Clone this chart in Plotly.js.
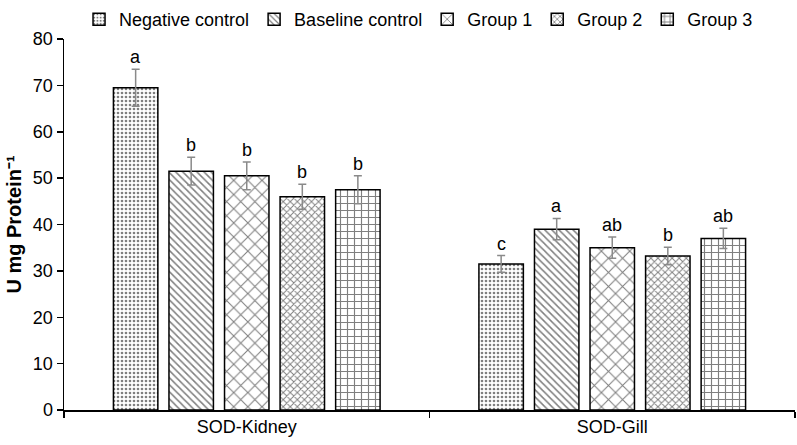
<!DOCTYPE html>
<html>
<head>
<meta charset="utf-8">
<script src="https://cdn.plot.ly/plotly-3.0.1.min.js"></script>
<style>html,body{margin:0;padding:0;background:#fff;}#chart{width:797px;height:445px;}</style>
</head>
<body>
<div id="chart"></div>
<script>
const categories = ["SOD-Kidney", "SOD-Gill"];
const seriesNames = ["Negative control", "Baseline control", "Group 1", "Group 2", "Group 3"];
const negativeControl = [69.5, 31.5];
const baselineControl = [51.5, 39.0];
const group1 = [50.5, 35.0];
const group2 = [46.0, 33.2];
const group3 = [47.5, 37.0];
const errNegative = [4.0, 1.8];
const errBaseline = [3.0, 2.3];
const errGroup1 = [3.0, 2.3];
const errGroup2 = [2.7, 1.9];
const errGroup3 = [3.0, 2.2];
const lettersNegative = ["a", "c"];
const lettersBaseline = ["b", "a"];
const lettersGroup1 = ["b", "ab"];
const lettersGroup2 = ["b", "b"];
const lettersGroup3 = ["b", "ab"];
const yTicks = [0, 10, 20, 30, 40, 50, 60, 70, 80];

const values = [negativeControl, baselineControl, group1, group2, group3];
const errors = [errNegative, errBaseline, errGroup1, errGroup2, errGroup3];
const letters = [lettersNegative, lettersBaseline, lettersGroup1, lettersGroup2, lettersGroup3];
const patterns = [
  {shape: ".", size: 4, solidity: 0.35},
  {shape: "\\", size: 5, solidity: 0.3},
  {shape: "x", size: 10, solidity: 0.2},
  {shape: "x", size: 5, solidity: 0.35},
  {shape: "+", size: 7, solidity: 0.3}
];

const font = "Liberation Sans, Arial, sans-serif";
const bargap = 0.24;
const slot = (1 - bargap) / seriesNames.length;

const traces = seriesNames.map((name, i) => ({
  type: "bar",
  name: name,
  x: categories,
  y: values[i],
  error_y: {type: "data", array: errors[i], visible: true, color: "#8a8a8a", thickness: 1.5, width: 4},
  marker: {
    color: "#ffffff",
    line: {color: "#000000", width: 1.5},
    pattern: Object.assign({fgcolor: "#000000", bgcolor: "#ffffff", fillmode: "overlay"}, patterns[i])
  },
  hoverinfo: "skip"
}));

const annotations = [];
seriesNames.forEach((name, i) => {
  categories.forEach((c, j) => {
    annotations.push({
      x: j + (i - 2) * slot,
      y: values[i][j] + errors[i][j],
      xref: "x", yref: "y",
      text: letters[i][j],
      showarrow: false,
      yanchor: "bottom",
      yshift: 0,
      font: {family: font, size: 18, color: "#000"}
    });
  });
});

const layout = {
  width: 797, height: 445,
  margin: {l: 64, r: 2, t: 38, b: 35},
  paper_bgcolor: "#fff", plot_bgcolor: "#fff",
  font: {family: font, color: "#000", size: 18},
  barmode: "group",
  bargap: bargap,
  bargroupgap: 0.2,
  showlegend: true,
  legend: {
    orientation: "h", x: 0.485, xanchor: "center", y: 1.0, yanchor: "bottom",
    font: {family: font, size: 18, color: "#000"},
    itemwidth: 30, tracegroupgap: 0
  },
  xaxis: {
    type: "category",
    showline: true, linecolor: "#000", linewidth: 1.5,
    ticks: "outside", tickson: "boundaries", ticklen: 6, tickcolor: "#000", tickwidth: 1.5,
    tickfont: {family: font, size: 18, color: "#000"},
    showgrid: false, zeroline: false
  },
  yaxis: {
    range: [0, 80],
    tickvals: yTicks,
    showline: true, linecolor: "#000", linewidth: 1.5,
    ticks: "outside", ticklen: 6, tickcolor: "#000", tickwidth: 1.5,
    tickfont: {family: font, size: 18, color: "#000"},
    showgrid: false, zeroline: false,
    title: {text: "<b>U mg Protein⁻¹</b>", font: {family: font, size: 20, color: "#000"}, standoff: 6}
  },
  annotations: annotations
};

Plotly.newPlot("chart", traces, layout, {displayModeBar: false, staticPlot: true});
</script>
</body>
</html>
